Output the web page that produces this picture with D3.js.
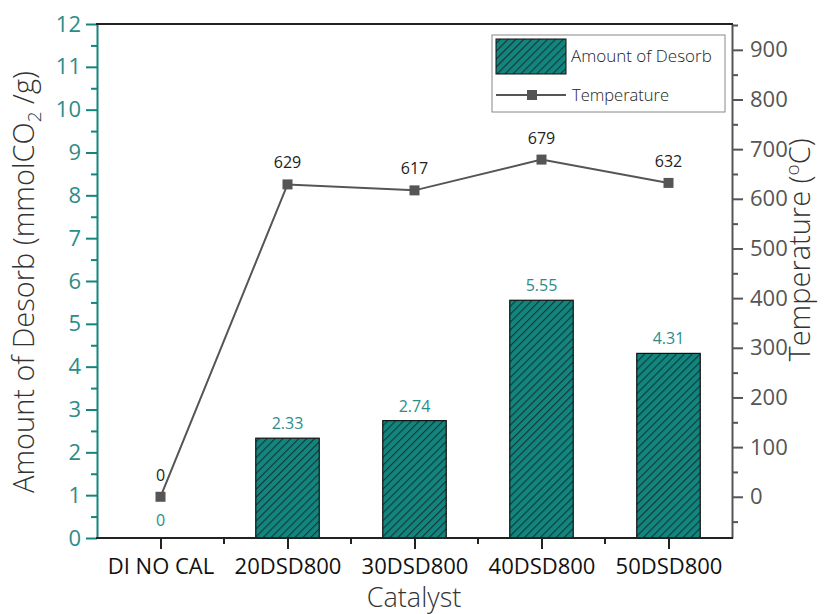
<!DOCTYPE html>
<html><head><meta charset="utf-8">
<script src="https://cdn.jsdelivr.net/npm/d3@7"></script>
<style>body{margin:0;background:#fff}svg{display:block;font-family:"Open Sans","Noto Sans",sans-serif}.lt{font-weight:300}</style>
</head><body><svg id="c" width="826" height="614"></svg>
<script>
const categories = ["DI NO CAL","20DSD800","30DSD800","40DSD800","50DSD800"];
const desorb = [0, 2.33, 2.74, 5.55, 4.31];
const desorbLabels = ["0","2.33","2.74","5.55","4.31"];
const temperature = [0, 629, 617, 679, 632];
const leftTicks = [0,1,2,3,4,5,6,7,8,9,10,11,12];
const rightTicks = [0,100,200,300,400,500,600,700,800,900];

const svg = d3.select("#c");
const L = 97, R = 732, T = 24, B = 538;
const teal = "#13857f", tealText = "#2b8c8a", grey = "#555";
const FONT = '"Open Sans","Noto Sans",sans-serif';

const x = d3.scaleBand().domain(categories).range([L, R]).paddingInner(0).paddingOuter(0);
const yL = d3.scaleLinear().domain([0, 12]).range([B, T]);
const yR = d3.scaleLinear().domain([-83, 952]).range([B, T]);

// hatch pattern
const defs = svg.append("defs");
const pat = defs.append("pattern").attr("id","hatch").attr("patternUnits","userSpaceOnUse")
  .attr("width",5.6).attr("height",5.6).attr("patternTransform","rotate(45)");
pat.append("rect").attr("width",5.6).attr("height",5.6).attr("fill",teal);
pat.append("line").attr("x1",0.6).attr("y1",0).attr("x2",0.6).attr("y2",5.6).attr("stroke","#0f3533").attr("stroke-width",1.1);

// bars
const bw = x.bandwidth()*0.5;
svg.append("g").selectAll("rect").data(categories).join("rect")
  .attr("x", d => x(d) + x.bandwidth()/2 - bw/2)
  .attr("y", (d,i) => yL(desorb[i]))
  .attr("width", bw)
  .attr("height", (d,i) => yL(0) - yL(desorb[i]))
  .attr("fill","url(#hatch)").attr("stroke","#111").attr("stroke-width", (d,i)=>desorb[i]>0?1.2:0);

// bar labels
svg.append("g").selectAll("text").data(categories).join("text")
  .attr("x", d => x(d) + x.bandwidth()/2)
  .attr("y", (d,i) => desorb[i] > 0 ? yL(desorb[i]) - 9 : yR(0) + 29)
  .attr("text-anchor","middle").attr("fill",tealText).attr("font-size",16)
  .text((d,i)=>desorbLabels[i]);

// temperature line
const line = d3.line().x(d => x(d[0]) + x.bandwidth()/2).y(d => yR(d[1]));
svg.append("path").datum(categories.map((c,i)=>[c,temperature[i]]))
  .attr("d", line).attr("fill","none").attr("stroke",grey).attr("stroke-width",2);
svg.append("g").selectAll("rect").data(categories).join("rect")
  .attr("x", d => x(d) + x.bandwidth()/2 - 5)
  .attr("y", (d,i) => yR(temperature[i]) - 5)
  .attr("width",10).attr("height",10).attr("fill",grey);
svg.append("g").selectAll("text").data(categories).join("text")
  .attr("x", d => x(d) + x.bandwidth()/2)
  .attr("y", (d,i) => yR(temperature[i]) - 16)
  .attr("text-anchor","middle").attr("fill","#222").attr("font-size",16)
  .text((d,i)=>temperature[i]);

// axes
function styleAxis(g, color, textColor, size){
  g.select(".domain").attr("stroke",color).attr("stroke-width",2);
  g.selectAll(".tick line").attr("stroke",color).attr("stroke-width",2);
  g.selectAll(".tick text").attr("fill",textColor).attr("font-size",size).attr("font-family",FONT);
}
// left minor
svg.append("g").attr("transform",`translate(${L},0)`)
  .call(d3.axisLeft(yL).tickValues(d3.range(0.5,12,1)).tickSize(6).tickFormat(""))
  .call(g=>{g.select(".domain").remove(); g.selectAll("line").attr("stroke",teal).attr("stroke-width",2);});
const gl = svg.append("g").attr("transform",`translate(${L},0)`)
  .call(d3.axisLeft(yL).tickValues(leftTicks).tickSize(11).tickSizeOuter(0).tickPadding(5));
styleAxis(gl, teal, tealText, 22);

// right minor
svg.append("g").attr("transform",`translate(${R},0)`)
  .call(d3.axisRight(yR).tickValues(d3.range(-50,951,100)).tickSize(6).tickFormat(""))
  .call(g=>{g.select(".domain").remove(); g.selectAll("line").attr("stroke",grey).attr("stroke-width",2);});
const gr = svg.append("g").attr("transform",`translate(${R},0)`)
  .call(d3.axisRight(yR).tickValues(rightTicks).tickSize(11).tickSizeOuter(0).tickPadding(7));
styleAxis(gr, grey, grey, 22);

// bottom axis
const xc = d3.scalePoint().domain(categories).range([L + x.bandwidth()/2, R - x.bandwidth()/2]);
svg.append("g").attr("transform",`translate(0,${B})`)
  .call(d3.axisBottom(x).tickValues(categories.slice(1)).tickSize(6).tickFormat("").tickSizeOuter(0))
  .call(g=>{g.select(".domain").remove(); g.selectAll("line").attr("stroke","#222").attr("stroke-width",2).attr("transform",`translate(${-x.bandwidth()/2},0)`);});
const gb = svg.append("g").attr("transform",`translate(0,${B})`)
  .call(d3.axisBottom(xc).tickSize(11).tickSizeOuter(0).tickPadding(9));
gb.select(".domain").remove();
gb.selectAll(".tick line").attr("stroke","#222").attr("stroke-width",2);
gb.selectAll(".tick text").attr("fill","#111").attr("font-size",22).attr("font-family",FONT);
svg.append("line").attr("x1",L-1).attr("x2",R+1).attr("y1",B).attr("y2",B).attr("stroke","#222").attr("stroke-width",2);
svg.append("line").attr("x1",L-1).attr("x2",R+1).attr("y1",T).attr("y2",T).attr("stroke","#222").attr("stroke-width",2);

// axis titles
svg.append("text").attr("class","lt").attr("x",414).attr("y",607).attr("text-anchor","middle").attr("font-size",27).attr("fill","#333").text("Catalyst");
const lt = svg.append("text").attr("class","lt").attr("transform","translate(34,282) rotate(-90)").attr("text-anchor","middle").attr("font-size",29).attr("fill","#333");
lt.append("tspan").text("Amount of Desorb (mmolCO");
lt.append("tspan").attr("font-size",19).attr("dy",7).text("2");
lt.append("tspan").attr("dy",-7).text(" /g)");
const rt = svg.append("text").attr("class","lt").attr("transform","translate(810,250) rotate(-90)").attr("text-anchor","middle").attr("font-size",29).attr("fill","#333");
rt.append("tspan").text("Temperature (");
rt.append("tspan").attr("font-size",19).attr("dy",-11).text("o");
rt.append("tspan").attr("dy",11).text("C)");

// legend
const lg = svg.append("g");
lg.append("rect").attr("x",492).attr("y",35).attr("width",233).attr("height",77).attr("fill","#fff").attr("stroke","#888").attr("stroke-width",1);
lg.append("rect").attr("x",496).attr("y",39).attr("width",70).attr("height",35).attr("fill","url(#hatch)").attr("stroke","#111").attr("stroke-width",1);
const clip = defs.append("clipPath").attr("id","lgclip");
clip.append("rect").attr("x",492).attr("y",35).attr("width",232).attr("height",77);
lg.append("text").attr("class","lt").attr("x",571).attr("y",62).attr("font-size",17).attr("fill","#222").attr("clip-path","url(#lgclip)").text("Amount of Desorb");
lg.append("line").attr("x1",496).attr("x2",566).attr("y1",95).attr("y2",95).attr("stroke",grey).attr("stroke-width",2);
lg.append("rect").attr("x",527).attr("y",90).attr("width",10).attr("height",10).attr("fill",grey);
lg.append("text").attr("class","lt").attr("x",572).attr("y",101).attr("font-size",16.5).attr("fill","#222").text("Temperature");
</script></body></html>
